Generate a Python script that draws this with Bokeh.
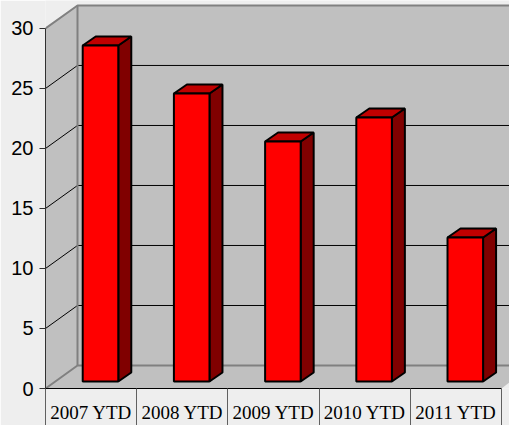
from bokeh.plotting import figure
from bokeh.embed import file_html
from bokeh.resources import INLINE
from bokeh.models import FixedTicker, Range1d

categories = ["2007 YTD", "2008 YTD", "2009 YTD", "2010 YTD", "2011 YTD"]
values = [28, 24, 20, 22, 12]
y_ticks = [0, 5, 10, 15, 20, 25, 30]

# projection constants, in data units
X_MAX = 5.0877
Y_MAX = 32.33
WALL_DX = 0.351
WALL_DY = 1.917
BAR_OFFSET = 0.603
BAR_W = 0.39
BAR_BASE = 0.583
BAR_DX = 0.1425
BAR_DY = 0.75

BG = "#eeeeee"
WALL = "#c0c0c0"
EDGE = "#808080"

p = figure(width=509, height=425, output_backend="svg", toolbar_location=None,
           x_range=Range1d(0, X_MAX), y_range=Range1d(0, Y_MAX),
           min_border_left=45, min_border_right=0, min_border_top=0, min_border_bottom=37,
           background_fill_color=BG, border_fill_color=BG, outline_line_color=None)
p.grid.visible = False

# walls and floor
p.patch([0, WALL_DX, WALL_DX, 0], [0, WALL_DY, 30 + WALL_DY, 30], fill_color=WALL, line_color=None)
p.patch([WALL_DX, X_MAX, X_MAX, WALL_DX], [WALL_DY, WALL_DY, 30 + WALL_DY, 30 + WALL_DY], fill_color=WALL, line_color=None)
p.patch([0, WALL_DX, X_MAX, X_MAX, 5], [0, WALL_DY, WALL_DY, 0.5, 0], fill_color=WALL, line_color=None)

# grid lines
for t in y_ticks[1:-1]:
    p.line([0, WALL_DX, X_MAX], [t, t + WALL_DY, t + WALL_DY], line_color="#000000", line_width=1)
# wall edges
p.line([0, WALL_DX, X_MAX], [30, 30 + WALL_DY, 30 + WALL_DY], line_color=EDGE, line_width=2)
p.line([WALL_DX, WALL_DX], [WALL_DY, 30 + WALL_DY], line_color=EDGE, line_width=2)
p.line([0, WALL_DX, X_MAX], [0, WALL_DY, WALL_DY], line_color=EDGE, line_width=2)

# bars
for i, v in enumerate(values):
    l = i + BAR_OFFSET - BAR_W / 2
    r = i + BAR_OFFSET + BAR_W / 2
    b = BAR_BASE
    t = v + BAR_BASE
    p.patch([r, r + BAR_DX, r + BAR_DX, r], [b, b + BAR_DY, t + BAR_DY, t],
            fill_color="#800000", line_color="#000000", line_width=2)
    p.patch([l, l + BAR_DX, r + BAR_DX, r], [t, t + BAR_DY, t + BAR_DY, t],
            fill_color="#c00000", line_color="#000000", line_width=2)
    p.quad(left=[l], right=[r], bottom=[b], top=[t],
           fill_color="#ff0000", line_color="#000000", line_width=2)

# axes
p.yaxis.ticker = FixedTicker(ticks=y_ticks)
p.yaxis.bounds = (0, 30)
p.yaxis.axis_line_color = "#303030"
p.yaxis.major_tick_out = 6
p.yaxis.major_tick_in = 0
p.yaxis.major_tick_line_color = "#303030"
p.yaxis.minor_tick_line_color = None
p.yaxis.major_label_text_font = "Liberation Sans"
p.yaxis.major_label_text_font_size = "20px"
p.yaxis.major_label_text_color = "#000000"
p.yaxis.major_label_standoff = 6

centers = [i + 0.5 for i in range(len(categories))]
p.xaxis.ticker = FixedTicker(ticks=centers, minor_ticks=list(range(len(categories) + 1)))
p.xaxis.major_label_overrides = {c: n for c, n in zip(centers, categories)}
p.xaxis.bounds = (0, 5)
p.xaxis.axis_line_color = "#000000"
p.xaxis.major_tick_line_color = None
p.xaxis.minor_tick_line_color = "#606060"
p.xaxis.minor_tick_out = 37
p.xaxis.minor_tick_in = 0
p.xaxis.major_label_text_font = "Liberation Serif"
p.xaxis.major_label_text_font_size = "19px"
p.xaxis.major_label_text_color = "#000000"
p.xaxis.major_label_standoff = -24

open("out.html", "w").write(file_html(p, INLINE))
